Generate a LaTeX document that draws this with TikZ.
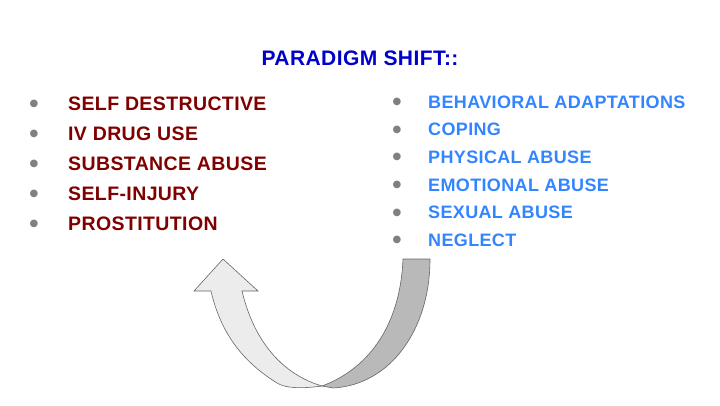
\documentclass[tikz,border=0pt]{standalone}
\usepackage{fontspec}
\setmainfont{Liberation Sans}[LetterSpace=2]
\newfontfamily\dv{DejaVu Sans}
\begin{document}
\begin{tikzpicture}[x=1pt,y=-1pt,
  litem/.style={anchor=west,text=red!50!black,font=\bfseries\fontsize{19.5}{20}\selectfont,inner sep=0},
  ritem/.style={anchor=west,text=blue!60!cyan!80!white,font=\bfseries\fontsize{18}{18}\selectfont,inner sep=0},
  bul/.style={text=gray,font=\dv\fontsize{10}{10}\selectfont,inner sep=0},
  arr/.style={draw=gray!80!black,line width=0.6pt}]
\useasboundingbox (0,0) rectangle (720,405);
\node[text=blue!80!black,font=\bfseries\fontsize{21}{22}\selectfont] (t) at (360,58) {PARADIGM SHIFT::};
\foreach \t [count=\i] in {SELF DESTRUCTIVE,IV DRUG USE,SUBSTANCE ABUSE,SELF-INJURY,PROSTITUTION}{
  \node[bul] (lb\i) at (34,{74+30*\i}) {●};
  \node[litem] (l\i) at (68,{74+30*\i}) {\t};}
\foreach \t [count=\i] in {BEHAVIORAL ADAPTATIONS,COPING,PHYSICAL ABUSE,EMOTIONAL ABUSE,SEXUAL ABUSE,NEGLECT}{
  \node[bul] (rb\i) at (397,{74.5+27.6*\i}) {●};
  \node[ritem] (r\i) at (428,{74.5+27.6*\i}) {\t};}
\fill[gray!55,arr] (403,259) -- (430,259) .. controls (430,330) and (390,385) .. (333,388) -- (322,386) .. controls (365,370) and (400,330) .. (403,259) -- cycle;
\fill[gray!15,arr] (223,259) -- (258,291) -- (242,291) .. controls (255,345) and (285,375) .. (322,386) .. controls (300,389) and (285,388) .. (277,383) .. controls (240,360) and (220,330) .. (211,291) -- (194,291) -- cycle;
\end{tikzpicture}
\end{document}
